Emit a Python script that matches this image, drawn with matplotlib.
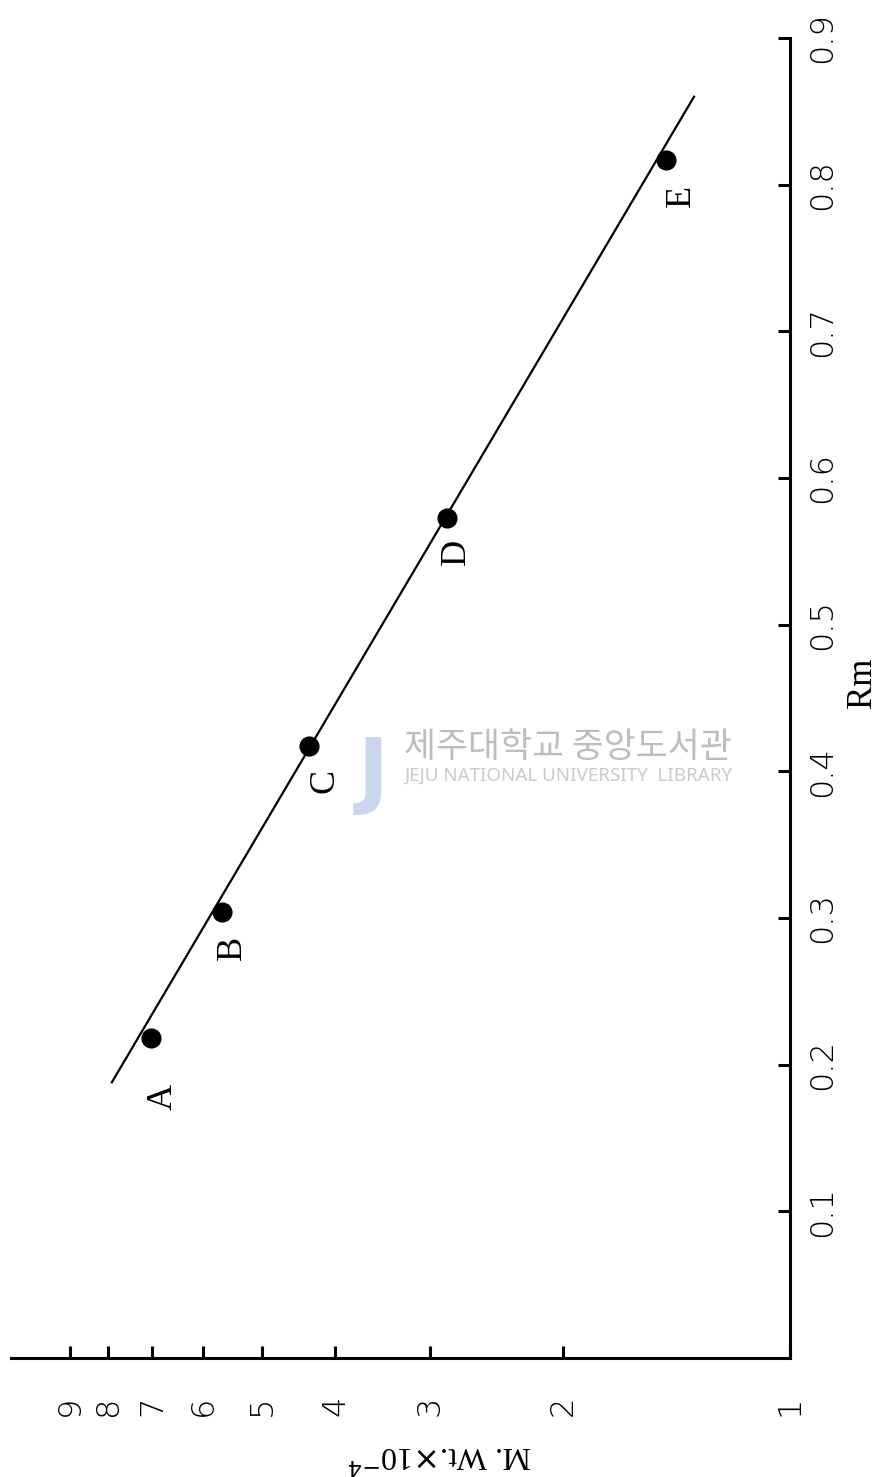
import matplotlib.pyplot as plt
from matplotlib.ticker import FixedLocator, NullLocator, FixedFormatter

samples = ["A", "B", "C", "D", "E"]
mol_wt = [7.02, 5.65, 4.34, 2.85, 1.46]      # x 10^4
rm = [0.218, 0.304, 0.417, 0.573, 0.817]

fit_wt = [7.91, 1.34]
fit_rm = [0.188, 0.860]

wt_ticks = [1, 2, 3, 4, 5, 6, 7, 8, 9]
rm_ticks = [0.1, 0.2, 0.3, 0.4, 0.5, 0.6, 0.7, 0.8, 0.9]

label_offsets = [(12, -59), (10, -36), (16, -35), (10, -34), (16, -36)]

W, H = 881, 1477
fig = plt.figure(figsize=(W / 100, H / 100), dpi=100)
ax = fig.add_axes([11 / W, (H - 1358) / H, (790 - 11) / W, 1320 / H])

ax.set_xscale("log")
ax.set_xlim(10.76, 1.0)
ax.set_ylim(0, 0.9)

for s in ["top", "left"]:
    ax.spines[s].set_visible(False)
for s in ["bottom", "right"]:
    ax.spines[s].set_linewidth(2.2)

ax.plot(fit_wt, fit_rm, color="black", lw=1.6)
ax.plot(mol_wt, rm, "o", color="black", markersize=13.5)

for name, x, y, off in zip(samples, mol_wt, rm, label_offsets):
    ax.annotate(name, (x, y), xytext=off, textcoords="offset pixels",
                rotation=90, ha="center", va="center",
                family="Liberation Serif", fontsize=26)

# log axis (bottom)
ax.xaxis.set_major_locator(FixedLocator(wt_ticks))
ax.xaxis.set_major_formatter(FixedFormatter([str(t) for t in wt_ticks]))
ax.xaxis.set_minor_locator(NullLocator())
ax.tick_params(axis="x", direction="in", length=9, width=2.2, pad=27,
               labelsize=23, labelrotation=90)

# Rm axis (right)
ax.yaxis.tick_right()
ax.set_yticks(rm_ticks)
ax.set_yticklabels(["%.1f" % t for t in rm_ticks])
ax.tick_params(axis="y", direction="in", length=9, width=2.2, pad=12,
               labelsize=23, labelrotation=90)
for lab in ax.get_yticklabels() + ax.get_xticklabels():
    lab.set_fontweight("light")
for lab in ax.get_yticklabels():
    lab.set_va("center")

fig.text(862 / W, 1 - 683 / H, "Rm", rotation=90, ha="center", va="center",
         family="Liberation Serif", fontsize=25)
fig.text(440 / W, 1 - 1455 / H, r"M. Wt.$\times$10$^{-4}$", rotation=180,
         ha="center", va="center", family="Liberation Serif", fontsize=23)

# library watermark
fig.text(373 / W, 1 - 775 / H, "J", ha="center", va="center", color="#c9d6ee",
         fontsize=60, fontweight="bold", family="DejaVu Sans", zorder=0)
fig.text(404 / W, 1 - 747 / H, "제주대학교 중앙도서관", ha="left", va="center",
         color="#bdbdbd", fontsize=25, family=["Noto Sans CJK KR", "DejaVu Sans"])
fig.text(404 / W, 1 - 776 / H, "JEJU NATIONAL UNIVERSITY  LIBRARY", ha="left",
         va="center", color="#cacaca", fontsize=13.5, family="Noto Sans")

fig.savefig("out.png", dpi=100)
